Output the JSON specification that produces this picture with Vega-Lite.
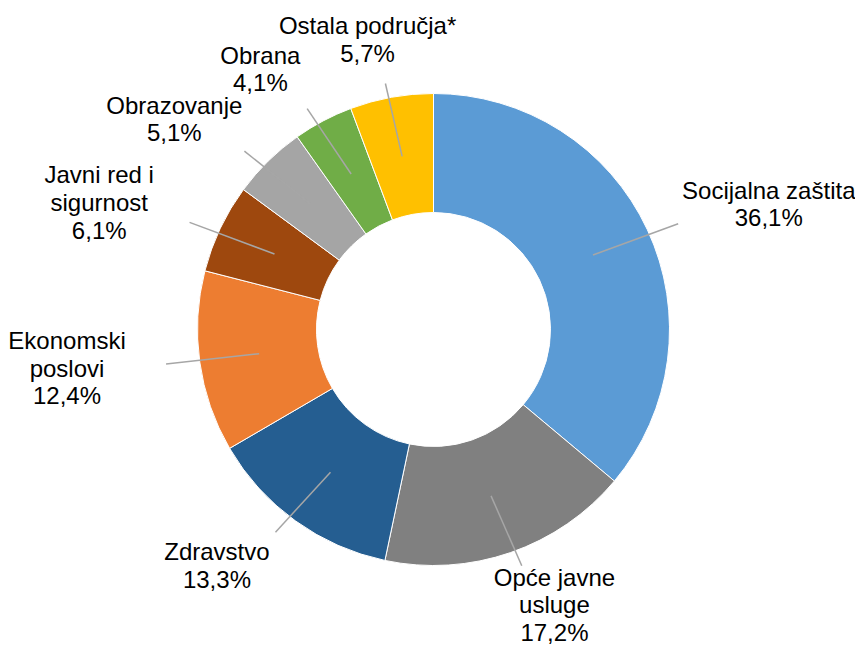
{
  "$schema": "https://vega.github.io/schema/vega-lite/v6.json",
  "width": 843,
  "height": 651,
  "autosize": {"type": "none"},
  "padding": {"left": 12, "top": 4, "right": 0, "bottom": 0},
  "background": "white",
  "config": {"view": {"stroke": null}},
  "data": {
    "values": [
      {"category": "Socijalna zaštita", "label": "Socijalna zaštita\n36,1%", "value": 36.1, "order": 1},
      {"category": "Opće javne usluge", "label": "Opće javne\nusluge\n17,2%", "value": 17.2, "order": 2},
      {"category": "Zdravstvo", "label": "Zdravstvo\n13,3%", "value": 13.3, "order": 3},
      {"category": "Ekonomski poslovi", "label": "Ekonomski\nposlovi\n12,4%", "value": 12.4, "order": 4},
      {"category": "Javni red i sigurnost", "label": "Javni red i\nsigurnost\n6,1%", "value": 6.1, "order": 5},
      {"category": "Obrazovanje", "label": "Obrazovanje\n5,1%", "value": 5.1, "order": 6},
      {"category": "Obrana", "label": "Obrana\n4,1%", "value": 4.1, "order": 7},
      {"category": "Ostala područja*", "label": "Ostala područja*\n5,7%", "value": 5.7, "order": 8}
    ]
  },
  "transform": [
    {"stack": "value", "groupby": [], "sort": [{"field": "order", "order": "ascending"}], "as": ["v0", "v1"]},
    {"calculate": "PI * (datum.v0 + datum.v1) / 100", "as": "ang"},
    {"calculate": "370 * sin(datum.ang)", "as": "lx"},
    {"calculate": "293 * cos(datum.ang) + 13.8 * (length(split(datum.label, '\\n')) - 1)", "as": "ly"},
    {"calculate": "176 * sin(datum.ang)", "as": "sx"},
    {"calculate": "176 * cos(datum.ang)", "as": "sy"},
    {"calculate": "270 * sin(datum.ang)", "as": "ex"},
    {"calculate": "250 * cos(datum.ang)", "as": "ey"}
  ],
  "layer": [
    {
      "mark": {"type": "arc", "innerRadius": 117, "outerRadius": 236, "stroke": "white", "strokeWidth": 1},
      "encoding": {
        "theta": {"field": "v0", "type": "quantitative", "scale": {"domain": [0, 100]}},
        "theta2": {"field": "v1"},
        "color": {
          "field": "category",
          "type": "nominal",
          "scale": {
            "domain": ["Socijalna zaštita", "Opće javne usluge", "Zdravstvo", "Ekonomski poslovi", "Javni red i sigurnost", "Obrazovanje", "Obrana", "Ostala područja*"],
            "range": ["#5B9BD5", "#808080", "#255E91", "#ED7D31", "#9E480E", "#A5A5A5", "#70AD47", "#FFC000"]
          },
          "legend": null
        }
      }
    },
    {
      "mark": {"type": "rule", "color": "#A6A6A6", "strokeWidth": 1.5},
      "encoding": {
        "x": {"field": "sx", "type": "quantitative", "scale": {"domain": [-421.5, 421.5], "nice": false, "zero": false}, "axis": null},
        "y": {"field": "sy", "type": "quantitative", "scale": {"domain": [-325.5, 325.5], "nice": false, "zero": false}, "axis": null},
        "x2": {"field": "ex"},
        "y2": {"field": "ey"}
      }
    },
    {
      "mark": {"type": "text", "font": "Liberation Sans", "fontSize": 24, "lineHeight": 27.6, "lineBreak": "\n", "align": "center", "baseline": "middle", "color": "#000000"},
      "encoding": {
        "x": {"field": "lx", "type": "quantitative", "axis": null},
        "y": {"field": "ly", "type": "quantitative", "axis": null},
        "text": {"field": "label", "type": "nominal"}
      }
    }
  ]
}
